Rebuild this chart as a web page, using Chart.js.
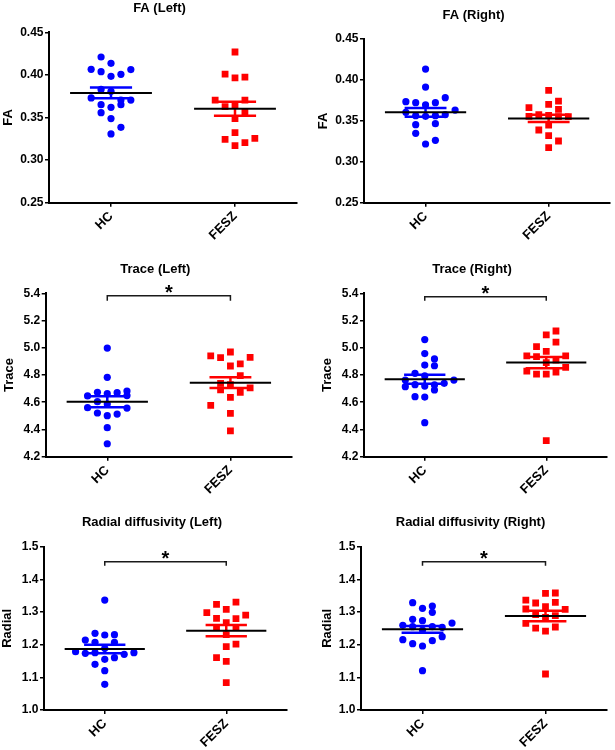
<!DOCTYPE html>
<html>
<head>
<meta charset="utf-8">
<script src="https://cdn.jsdelivr.net/npm/chart.js@4"></script>
<style>
  html,body{margin:0;padding:0;background:#fff;}
  body{width:615px;height:750px;position:relative;overflow:hidden;}
  canvas{position:absolute;}
</style>
</head>
<body>
<canvas id="p1" width="307" height="250" style="left:0px;top:0px"></canvas>
<canvas id="p2" width="308" height="250" style="left:307px;top:0px"></canvas>
<canvas id="p3" width="307" height="250" style="left:0px;top:250px"></canvas>
<canvas id="p4" width="308" height="250" style="left:307px;top:250px"></canvas>
<canvas id="p5" width="307" height="250" style="left:0px;top:500px"></canvas>
<canvas id="p6" width="308" height="250" style="left:307px;top:500px"></canvas>
<script>
// ---------------- DATA ----------------
const groups = ['HC', 'FESZ'];

const faTicks = [0.25, 0.30, 0.35, 0.40, 0.45];
const traceTicks = [4.2, 4.4, 4.6, 4.8, 5.0, 5.2, 5.4];
const radialTicks = [1.0, 1.1, 1.2, 1.3, 1.4, 1.5];

// scatter column (jitter) index of each point, per group
const colStep = 0.08;

// FA (Left)
const faLeftHC    = [0.421, 0.4136, 0.4066, 0.4038, 0.3983, 0.4007, 0.4062, 0.383, 0.3807, 0.373, 0.3705, 0.3705, 0.365, 0.362, 0.365, 0.3557, 0.3487, 0.3385, 0.3307];
const faLeftHCcol = [-1, 0, -2, -1, 0, 1, 2, -1, 0, -2, 2, 1, -1, 0, 1, -1, 0, 1, 0];
const faLeftFE    = [0.4269, 0.401, 0.3964, 0.3975, 0.3705, 0.3705, 0.3627, 0.3647, 0.356, 0.3487, 0.3322, 0.3244, 0.3205, 0.3255, 0.3169];
const faLeftFEcol = [0, -1, 0, 1, -2, 1, -1, 0, 1, 0, 0, -1, 1, 2, 0];
const faLeftMean  = [0.3788, 0.3604];
const faLeftSem   = [0.0063, 0.0082];

// FA (Right)
const faRightHC    = [0.4133, 0.3913, 0.3783, 0.3734, 0.3722, 0.3722, 0.3694, 0.3632, 0.3604, 0.3563, 0.3555, 0.3563, 0.3575, 0.3453, 0.3466, 0.3347, 0.3262, 0.3217];
const faRightHCcol = [0, 0, 2, -2, -1, 1, 0, 3, -2, -1, 0, 1, 2, -1, 1, -1, 1, 0];
const faRightFE    = [0.3873, 0.3742, 0.3702, 0.3661, 0.3641, 0.3575, 0.3555, 0.3567, 0.3551, 0.3551, 0.3449, 0.3388, 0.3319, 0.3254, 0.3172];
const faRightFEcol = [0, 1, 0, -2, 1, -1, -2, 0, 1, 2, 0, -1, 0, 1, 0];
const faRightMean  = [0.3604, 0.353];
const faRightSem   = [0.0053, 0.0043];

// Trace (Left)
const traceLeftHC    = [4.998, 4.783, 4.673, 4.663, 4.67, 4.682, 4.646, 4.649, 4.604, 4.587, 4.56, 4.557, 4.521, 4.513, 4.501, 4.413, 4.295];
const traceLeftHCcol = [0, 0, -1, 0, 1, 2, -2, 2, -1, 0, -2, 2, -1, 1, 0, 0, 0];
const traceLeftFE    = [4.969, 4.94, 4.927, 4.93, 4.881, 4.866, 4.795, 4.739, 4.729, 4.705, 4.69, 4.673, 4.636, 4.577, 4.518, 4.389];
const traceLeftFEcol = [0, -2, -1, 2, 1, 0, 1, -1, 0, 2, -1, 1, 0, -2, 0, 0];
const traceLeftMean  = [4.604, 4.744];
const traceLeftSem   = [0.040, 0.040];
const traceLeftBracket = [5.382, 5.346];

// Trace (Right)
const traceRightHC    = [5.06, 4.957, 4.918, 4.873, 4.868, 4.812, 4.793, 4.763, 4.763, 4.739, 4.727, 4.719, 4.729, 4.714, 4.69, 4.641, 4.638, 4.45];
const traceRightHCcol = [0, 0, 1, 0, 1, -1, 0, -2, 3, 2, 1, 0, -1, -2, 1, -1, 0, 0];
const traceRightFE    = [5.123, 5.094, 5.042, 5.008, 4.974, 4.94, 4.94, 4.935, 4.91, 4.891, 4.856, 4.829, 4.822, 4.807, 4.807, 4.318];
const traceRightFEcol = [1, 0, 1, -1, 0, -2, 2, -1, 1, 0, 2, -2, 1, -1, 0, 0];
const traceRightMean  = [4.768, 4.891];
const traceRightSem   = [0.033, 0.0415];
const traceRightBracket = [5.375, 5.346];

// Radial diffusivity (Left)
const radialLeftHC    = [1.3367, 1.2347, 1.2306, 1.2296, 1.2143, 1.2071, 1.2071, 1.1888, 1.1786, 1.1735, 1.1755, 1.1704, 1.1755, 1.1602, 1.1551, 1.1398, 1.1204, 1.0786];
const radialLeftHCcol = [0, -1, 1, 0, -2, -1, 1, 0, -3, -2, -1, 2, 3, 1, 0, -1, 0, 0];
const radialLeftFE    = [1.3306, 1.3235, 1.3082, 1.298, 1.2908, 1.2806, 1.2796, 1.2673, 1.253, 1.253, 1.2306, 1.202, 1.1939, 1.1602, 1.149, 1.0837];
const radialLeftFEcol = [1, -1, 0, -2, 2, -1, 1, 0, -1, 1, 0, 1, 0, -1, 0, 0];
const radialLeftMean  = [1.1867, 1.2429];
const radialLeftSem   = [0.0133, 0.0173];
const radialLeftBracket = [1.454, 1.442];

// Radial diffusivity (Right)
const radialRightHC    = [1.3286, 1.3184, 1.3112, 1.299, 1.2776, 1.2735, 1.2663, 1.2592, 1.253, 1.255, 1.2449, 1.2551, 1.2245, 1.2153, 1.2122, 1.2031, 1.1959, 1.1204];
const radialRightHCcol = [-1, 1, 0, 1, -1, 0, 3, -2, 2, -1, 0, 1, 2, -2, 1, -1, 0, 0];
const radialRightFE    = [1.3571, 1.3582, 1.3367, 1.3276, 1.3296, 1.3163, 1.3092, 1.3082, 1.2918, 1.2837, 1.2888, 1.2653, 1.251, 1.2541, 1.2418, 1.1102];
const radialRightFEcol = [0, 1, -2, -1, 1, 0, -2, 2, -1, 0, 1, -2, -1, 1, 0, 0];
const radialRightMean  = [1.2469, 1.2878];
const radialRightSem   = [0.0102, 0.0163];
const radialRightBracket = [1.454, 1.442];

// ---------------- PANELS ----------------
const panels = [
  {id:'p1', title:'FA (Left)', yTitle:'FA', ticks:faTicks, dec:2,
   hc:faLeftHC, hcCol:faLeftHCcol, fe:faLeftFE, feCol:faLeftFEcol, mean:faLeftMean, sem:faLeftSem, bracket:null,
   yW:49, padR:10, padT:32.3, xH:47.3, yTitleX:8.3},
  {id:'p2', title:'FA (Right)', yTitle:'FA', ticks:faTicks, dec:2,
   hc:faRightHC, hcCol:faRightHCcol, fe:faRightFE, feCol:faRightFEcol, mean:faRightMean, sem:faRightSem, bracket:null,
   yW:57, padR:2, padT:39, xH:47.3, yTitleX:16},
  {id:'p3', title:'Trace (Left)', yTitle:'Trace', ticks:traceTicks, dec:1,
   hc:traceLeftHC, hcCol:traceLeftHCcol, fe:traceLeftFE, feCol:traceLeftFEcol, mean:traceLeftMean, sem:traceLeftSem, bracket:traceLeftBracket,
   yW:45.7, padR:15, padT:43.3, xH:43.3, yTitleX:9},
  {id:'p4', title:'Trace (Right)', yTitle:'Trace', ticks:traceTicks, dec:1,
   hc:traceRightHC, hcCol:traceRightHCcol, fe:traceRightFE, feCol:traceRightFEcol, mean:traceRightMean, sem:traceRightSem, bracket:traceRightBracket,
   yW:57, padR:8, padT:43.3, xH:43.3, yTitleX:20},
  {id:'p5', title:'Radial diffusivity (Left)', yTitle:'Radial', ticks:radialTicks, dec:1,
   hc:radialLeftHC, hcCol:radialLeftHCcol, fe:radialLeftFE, feCol:radialLeftFEcol, mean:radialLeftMean, sem:radialLeftSem, bracket:radialLeftBracket,
   yW:44, padR:20, padT:46.7, xH:40, yTitleX:7.8},
  {id:'p6', title:'Radial diffusivity (Right)', yTitle:'Radial', ticks:radialTicks, dec:1,
   hc:radialRightHC, hcCol:radialRightHCcol, fe:radialRightFE, feCol:radialRightFEcol, mean:radialRightMean, sem:radialRightSem, bracket:radialRightBracket,
   yW:54, padR:8, padT:46.7, xH:40, yTitleX:20}
];

const FONT = '"Liberation Sans", Arial, Helvetica, sans-serif';
Chart.defaults.font.family = FONT;
Chart.defaults.color = '#000';

const BLUE = '#0000ff', RED = '#ff0000', BLACK = '#000000';
const MEAN_HALF = 0.33, SEM_HALF = 0.17;

const panelText = {
  id: 'panelText',
  afterDraw(chart, args, opts) {
    const {ctx, chartArea, scales} = chart;
    ctx.save();
    ctx.fillStyle = '#000';
    ctx.textAlign = 'center';
    ctx.font = 'bold 13px ' + FONT;
    ctx.textBaseline = 'middle';
    ctx.fillText(opts.title, (chartArea.left + chartArea.right) / 2 - 13.5, chartArea.top - 24);
    if (opts.bracket) {
      ctx.font = 'bold 20px ' + FONT;
      ctx.textBaseline = 'alphabetic';
      const yb = scales.y.getPixelForValue(opts.bracket[0]);
      ctx.fillText('*', scales.x.getPixelForValue(0.5), yb + 3);
    }
    ctx.restore();
  }
};

function lineDs(data, color, width, clip) {
  return {data, showLine:true, borderColor:color, backgroundColor:color, borderWidth:width,
          pointRadius:0, pointHoverRadius:0, fill:false, spanGaps:false, tension:0,
          borderCapStyle:'butt', clip: clip === undefined ? 5 : clip};
}

function makeChart(p) {
  const ds = [];
  const colors = [BLUE, RED];
  // mean lines (on top)
  [0, 1].forEach(g => {
    ds.push(lineDs([{x:g - MEAN_HALF, y:p.mean[g]}, {x:g + MEAN_HALF, y:p.mean[g]}], BLACK, 2));
  });
  // SEM bars
  [0, 1].forEach(g => {
    const hi = p.mean[g] + p.sem[g], lo = p.mean[g] - p.sem[g];
    ds.push(lineDs([
      {x:g - SEM_HALF, y:hi}, {x:g + SEM_HALF, y:hi}, {x:g, y:null},
      {x:g, y:hi}, {x:g, y:lo}, {x:g, y:null},
      {x:g - SEM_HALF, y:lo}, {x:g + SEM_HALF, y:lo}
    ], colors[g], 2.5));
  });
  // significance bracket
  if (p.bracket) {
    ds.push(lineDs([
      {x:0, y:p.bracket[1]}, {x:0, y:p.bracket[0]}, {x:1, y:p.bracket[0]}, {x:1, y:p.bracket[1]}
    ], '#1a1a1a', 1.5, false));
  }
  // points
  ds.push({data: p.hc.map((v, i) => ({x: 0 + p.hcCol[i] * colStep, y: v})),
           pointStyle:'circle', pointRadius:3.6, pointBorderWidth:0, borderWidth:0,
           backgroundColor:BLUE, pointBackgroundColor:BLUE, showLine:false});
  ds.push({data: p.fe.map((v, i) => ({x: 1 + p.feCol[i] * colStep, y: v})),
           pointStyle:'rect', pointRadius:4.8, pointBorderWidth:0, borderWidth:0,
           backgroundColor:RED, pointBackgroundColor:RED, showLine:false});

  const canvas = document.getElementById(p.id);
  new Chart(canvas, {
    type: 'scatter',
    data: {datasets: ds},
    plugins: [panelText],
    options: {
      responsive: false,
      animation: false,
      devicePixelRatio: 1,
      layout: {padding: {left:0, right:p.padR, top:p.padT, bottom:0}},
      plugins: {
        legend: {display:false},
        tooltip: {enabled:false},
        panelText: {title:p.title, bracket:p.bracket}
      },
      scales: {
        x: {
          type:'linear', min:-0.5, max:1.5,
          afterBuildTicks: s => { s.ticks = [{value:0}, {value:1}]; },
          afterFit: s => { s.height = p.xH; },
          grid: {display:true, drawOnChartArea:false, drawTicks:true, tickLength:4, color:BLACK, lineWidth:1.5},
          border: {display:true, color:BLACK, width:2},
          ticks: {autoSkip:false, minRotation:45, maxRotation:45, padding:2, color:BLACK,
                  font:{size:13, weight:'bold'}, callback: v => groups[v]}
        },
        y: {
          type:'linear', min:p.ticks[0], max:p.ticks[p.ticks.length - 1],
          afterBuildTicks: s => { s.ticks = p.ticks.map(v => ({value:v})); },
          afterFit: s => { s.width = p.yW; },
          grid: {display:true, drawOnChartArea:false, drawTicks:true, tickLength:4, color:BLACK, lineWidth:1.5},
          border: {display:true, color:BLACK, width:2},
          ticks: {autoSkip:false, padding:1.5, color:BLACK, font:{size:12, weight:'bold'},
                  callback: v => Number(v).toFixed(p.dec)},
          title: {display:true, text:p.yTitle, color:BLACK, font:{size:13, weight:'bold'},
                  padding:{top:Math.max(0, p.yTitleX - 7.8), bottom:0}}
        }
      }
    }
  });
}

panels.forEach(makeChart);
</script>
</body>
</html>
